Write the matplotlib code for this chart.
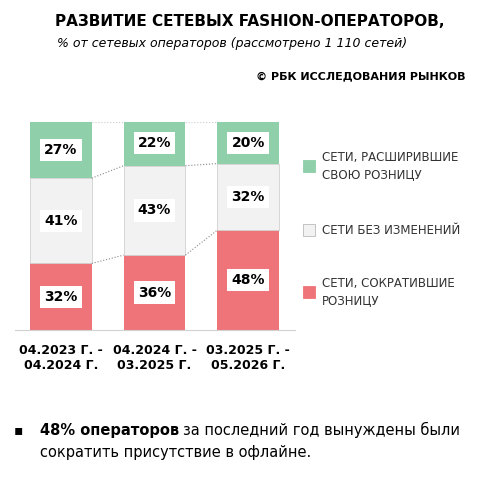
import matplotlib.pyplot as plt

periods = ["04.2023 Г. -\n04.2024 Г.", "04.2024 Г. -\n03.2025 Г.", "03.2025 Г. -\n05.2026 Г."]
reduced = [32, 36, 48]
unchanged = [41, 43, 32]
expanded = [27, 22, 20]
legend_labels = ["СЕТИ, РАСШИРИВШИЕ\nСВОЮ РОЗНИЦУ", "СЕТИ БЕЗ ИЗМЕНЕНИЙ", "СЕТИ, СОКРАТИВШИЕ\nРОЗНИЦУ"]

green, grey, red = "#8fcfaa", "#f2f2f2", "#ee7479"
W, H = 499, 479
fig = plt.figure(figsize=(W / 100, H / 100), dpi=100)
ax = fig.add_axes([15 / W, (H - 330) / H, 280 / W, 208 / H])

x = range(len(periods))
bw = 0.66
ax.bar(x, reduced, bw, color=red)
ax.bar(x, unchanged, bw, bottom=reduced, color=grey, edgecolor="#d0d0d0", linewidth=0.6)
b2 = [r + u for r, u in zip(reduced, unchanged)]
ax.bar(x, expanded, bw, bottom=b2, color=green)

# dotted connectors
for i in range(len(periods) - 1):
    for lvl in (reduced, b2):
        ax.plot([i + bw / 2, i + 1 - bw / 2], [lvl[i], lvl[i + 1]], ":", color="#888888", lw=0.8)
    ax.plot([i + bw / 2, i + 1 - bw / 2], [100, 100], ":", color="#cccccc", lw=0.8)

box = dict(boxstyle="square,pad=0.3", fc="white", ec="none")
for i in x:
    for bottom, val in ((0, reduced[i]), (reduced[i], unchanged[i]), (b2[i], expanded[i])):
        ax.text(i, bottom + val / 2, f"{val}%", ha="center", va="center",
                fontsize=10, fontweight="bold", bbox=box)

ax.set_xlim(-0.49, 2.5)
ax.set_ylim(0, 100)
ax.set_yticks([])
ax.set_xticks(list(x))
ax.set_xticklabels(periods, fontsize=9, fontweight="bold")
ax.tick_params(axis="x", length=0, pad=10)
for s in ("top", "left", "right"):
    ax.spines[s].set_visible(False)
ax.spines["bottom"].set_color("#d0d0d0")

# legend
for y, c, lab in ((166, green, legend_labels[0]), (230, grey, legend_labels[1]), (292, red, legend_labels[2])):
    fig.patches.append(plt.Rectangle((303 / W, (H - y - 6) / H), 12 / W, 12 / H,
                                     transform=fig.transFigure, fc=c, ec="#bbbbbb" if c == grey else c, lw=0.6))
    fig.text(322 / W, (H - y) / H, lab, fontsize=8.5, va="center", color="#333333", linespacing=1.5)

fig.text(250 / W, (H - 22) / H, "РАЗВИТИЕ СЕТЕВЫХ FASHION-ОПЕРАТОРОВ,", ha="center", va="center",
         fontsize=11, fontweight="bold")
fig.text(232 / W, (H - 44) / H, "% от сетевых операторов (рассмотрено 1 110 сетей)", ha="center", va="center",
         fontsize=9, style="italic")
fig.text(465 / W, (H - 76) / H, "© РБК ИССЛЕДОВАНИЯ РЫНКОВ", ha="right", va="center",
         fontsize=8, fontweight="bold")

fig.text(14 / W, (H - 430) / H, "▪", fontsize=10, va="center")
bold = fig.text(40 / W, (H - 430) / H, "48% операторов", fontsize=10.5, fontweight="bold", va="center")
fig.canvas.draw()
bb = bold.get_window_extent()
fig.text((bb.x1 + 4) / W, (H - 430) / H, "за последний год вынуждены были", fontsize=10.5, va="center")
fig.text(40 / W, (H - 452) / H, "сократить присутствие в офлайне.", fontsize=10.5, va="center")

fig.savefig("out.png", dpi=100)
